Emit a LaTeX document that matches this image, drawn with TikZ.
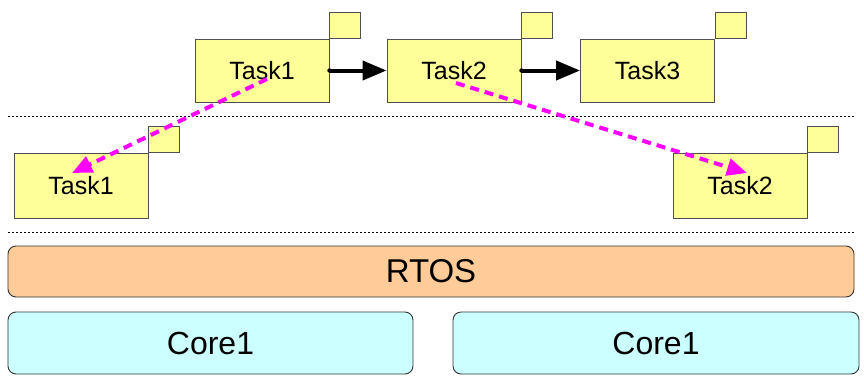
\documentclass[tikz,border=0pt]{standalone}
\usepackage{fontspec}
\setmainfont{Liberation Sans}
\usetikzlibrary{arrows.meta}
\definecolor{taskyellow}{HTML}{FFFF99}
\definecolor{rtospeach}{HTML}{FFCC99}
\definecolor{corecyan}{HTML}{CCFFFF}
\definecolor{mag}{HTML}{FF00FF}
\definecolor{edgegray}{HTML}{505050}
\tikzset{
  taskbox/.style={draw=edgegray, line width=0.9pt, fill=taskyellow, minimum width=134pt, minimum height=63pt, inner sep=0pt, font=\fontsize{25}{28}\selectfont},
  tasksq/.style={draw=edgegray, line width=0.9pt, fill=taskyellow, minimum width=31pt, minimum height=26pt, inner sep=0pt, anchor=south west},
  layer/.style={draw=black!80, line width=0.9pt, rounded corners=8pt, inner sep=0pt},
  sep/.style={line width=1pt, dash pattern=on 2pt off 2pt},
  flow/.style={line width=4pt, -{Triangle[length=24pt,width=19pt]}},
  migrate/.style={mag, line width=4pt, dash pattern=on 9pt off 6pt, -{Triangle[length=20pt,width=17pt]}},
}
\begin{document}
\begin{tikzpicture}[x=1pt,y=-1pt]
\useasboundingbox (0,0) rectangle (864,383);
% separators
\coordinate (s1l) at (8,116); \coordinate (s1r) at (854,116);
\coordinate (s2l) at (8,232); \coordinate (s2r) at (854,232);
\draw[sep] (s1l) -- (s1r);
\draw[sep] (s2l) -- (s2r);
% top tasks
\node[taskbox] (ta) at (262,70.5) {Task1};
\node[tasksq] (tas) at (ta.north east) {};
\node[taskbox] (tb) at (454,70.5) {Task2};
\node[tasksq] (tbs) at (tb.north east) {};
\node[taskbox] (tc) at (647.5,70.5) {Task3};
\node[tasksq] (tcs) at (tc.north east) {};
% lower tasks
\node[taskbox, minimum height=65pt] (la) at (81,185.5) {Task1};
\node[tasksq] (las) at (la.north east) {};
\node[taskbox, minimum height=65pt] (lb) at (740,185.5) {Task2};
\node[tasksq] (lbs) at (lb.north east) {};
% layers
\node[layer, fill=rtospeach, minimum width=846pt, minimum height=51pt, font=\fontsize{33}{36}\selectfont] (rtos) at (431,271.5) {RTOS};
\node[layer, fill=corecyan, minimum width=405pt, minimum height=62pt, font=\fontsize{32}{36}\selectfont] (c1) at (210.5,343) {Core1};
\node[layer, fill=corecyan, minimum width=406pt, minimum height=62pt, font=\fontsize{32}{36}\selectfont] (c2) at (656,343) {Core1};
% flow arrows
\fill (ta.east) circle (2.2pt);
\draw[flow] (ta.east) -- (tb.west);
\fill (tb.east) circle (2.2pt);
\draw[flow] (tb.east) -- (tc.west);
% migration arrows
\coordinate (ma0) at (267,79);
\coordinate (ma1) at (72,173);
\coordinate (mb0) at (456,83);
\coordinate (mb1) at (747,173);
\draw[migrate] (ma0) -- (ma1);
\draw[migrate] (mb0) -- (mb1);
\end{tikzpicture}
\end{document}
